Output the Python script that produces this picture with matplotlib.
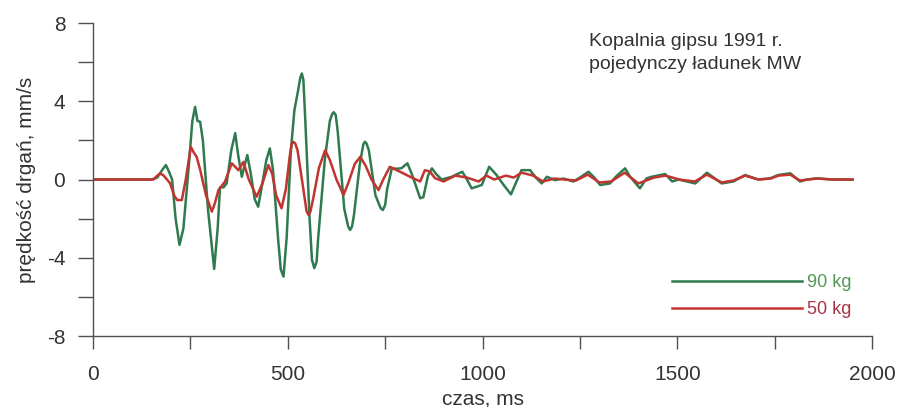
import matplotlib.pyplot as plt
from matplotlib.ticker import MultipleLocator

plt.rcParams['font.family'] = ['Liberation Sans', 'DejaVu Sans']
plt.rcParams['axes.unicode_minus'] = False

# Dane (czas w ms, prędkość w mm/s)
t_90 = [0, 150, 165, 178, 187, 195, 203, 212, 222, 232, 245, 255, 262, 268, 275, 282,
        295, 311, 320, 326, 335, 343, 355, 365, 373, 382, 390, 396, 405, 415, 424, 432,
        445, 454, 462, 475, 482, 489, 497, 508, 517, 526, 532, 536, 540, 545, 556, 562,
        568, 574, 578, 595, 608, 614, 618, 623, 628, 645, 655, 660, 665, 670, 685, 694,
        698, 702, 708, 725, 738, 744, 750, 755, 767, 780, 792, 807, 818, 840, 848, 860,
        870, 880, 895, 921, 948, 960, 972, 998, 1017, 1036, 1055, 1073, 1085, 1100, 1122,
        1137, 1152, 1165, 1186, 1208, 1233, 1250, 1272, 1287, 1302, 1327, 1345, 1366,
        1379, 1404, 1421, 1434, 1469, 1487, 1503, 1546, 1576, 1600, 1614, 1644, 1674,
        1708, 1738, 1759, 1790, 1815, 1832, 1858, 1900, 1950]
v_90 = [0, 0, 0.1, 0.5, 0.74, 0.4, 0.0, -2.0, -3.34, -2.5, 0.5, 3.0, 3.71, 3.0, 2.95, 2.0,
        -1.5, -4.57, -2.5, -0.4, -0.4, -0.2, 1.5, 2.37, 1.2, 0.14, 0.8, 1.25, 0.3, -1.0,
        -1.39, -0.5, 1.0, 1.59, 0.5, -3.0, -4.6, -4.96, -3.0, 1.5, 3.55, 4.5, 5.2, 5.42,
        5.1, 3.0, -2.0, -4.1, -4.53, -4.2, -3.0, 1.0, 3.0, 3.35, 3.44, 3.3, 2.5, -1.5,
        -2.4, -2.58, -2.4, -1.8, 0.8, 1.8, 1.93, 1.85, 1.5, -0.8, -1.45, -1.56, -1.3,
        -0.5, 0.57, 0.55, 0.58, 0.83, 0.3, -0.96, -0.9, 0.2, 0.57, 0.3, 0.0, 0.14, 0.4,
        0.0, -0.45, -0.28, 0.65, 0.23, -0.3, -0.76, -0.2, 0.48, 0.48, 0.1, -0.2, 0.14,
        -0.03, 0.05, -0.1, 0.1, 0.4, 0.1, -0.28, -0.2, 0.2, 0.57, 0.14, -0.45, 0.06, 0.14,
        0.28, -0.1, 0.0, -0.2, 0.35, 0.0, -0.2, -0.1, 0.23, 0.0, 0.06, 0.23, 0.32, -0.1,
        0.0, 0.06, 0.0, 0.0]

t_50 = [0, 155, 165, 172, 180, 190, 198, 208, 216, 228, 238, 251, 258, 266, 275, 290,
        305, 313, 322, 339, 356, 365, 373, 386, 400, 420, 435, 450, 460, 470, 484, 495,
        505, 510, 514, 519, 525, 540, 548, 553, 558, 565, 580, 596, 608, 625, 643, 655,
        672, 686, 700, 715, 733, 745, 762, 788, 814, 840, 852, 865, 878, 900, 930, 960,
        990, 1010, 1030, 1060, 1080, 1100, 1130, 1155, 1185, 1210, 1240, 1270, 1300,
        1330, 1365, 1400, 1440, 1470, 1505, 1545, 1576, 1614, 1644, 1674, 1708, 1740,
        1760, 1790, 1815, 1858, 1900, 1950]
v_50 = [0, 0, 0.2, 0.3, 0.23, 0.0, -0.2, -0.8, -1.05, -1.05, 0.0, 1.67, 1.4, 1.16, 0.5,
        -0.8, -1.64, -1.2, -0.54, -0.1, 0.83, 0.65, 0.48, 0.9, 0.0, -0.88, -0.2, 0.74, 0.3,
        -0.8, -1.47, -0.5, 1.2, 1.8, 1.93, 1.85, 1.5, -0.5, -1.6, -1.81, -1.65, -1.0, 0.6,
        1.5, 1.0, 0.0, -0.79, -0.2, 0.8, 1.16, 0.7, 0.0, -0.54, 0.0, 0.65, 0.4, 0.14,
        -0.1, 0.48, 0.4, 0.07, -0.1, 0.2, 0.1, -0.1, 0.2, 0.0, 0.2, 0.1, 0.35, 0.2, -0.1,
        0.05, 0.0, -0.05, 0.25, -0.15, -0.1, 0.35, -0.2, 0.1, 0.2, 0.0, -0.1, 0.25, -0.15,
        -0.05, 0.2, 0.0, 0.05, 0.2, 0.25, -0.05, 0.05, 0.0, 0.0]

KOLOR_90 = '#2f7a4e'
KOLOR_50 = '#c0352f'
SZARY = '#505050'

fig = plt.figure(figsize=(8.98, 4.07), dpi=100)
ax = fig.add_axes([0.1036, 0.1744, 0.8675, 0.769])

ax.plot(t_90, v_90, color=KOLOR_90, linewidth=1.8, label='90 kg')
ax.plot(t_50, v_50, color=KOLOR_50, linewidth=1.8, label='50 kg')

ax.set_xlim(0, 2000)
ax.set_ylim(-8, 8)
ax.xaxis.set_major_locator(MultipleLocator(500))
ax.xaxis.set_minor_locator(MultipleLocator(250))
ax.yaxis.set_major_locator(MultipleLocator(4))
ax.yaxis.set_minor_locator(MultipleLocator(2))
for s in ['top', 'right']:
    ax.spines[s].set_visible(False)
for s in ['left', 'bottom']:
    ax.spines[s].set_color(SZARY)
    ax.spines[s].set_linewidth(1.0)
ax.tick_params(axis='x', which='both', direction='out', length=9, width=1.0,
               color=SZARY, pad=12, labelsize=15, labelcolor='#333333')
ax.tick_params(axis='y', which='both', direction='out', length=11, width=1.0,
               color=SZARY, pad=9, labelsize=15, labelcolor='#333333')

ax.set_xlabel('czas, ms', fontsize=15, color='#333333', labelpad=4)
ax.set_ylabel('prędkość drgań, mm/s', fontsize=15, color='#333333', labelpad=8)

ax.text(0.637, 0.968, 'Kopalnia gipsu 1991 r.\npojedynczy ładunek MW',
        transform=ax.transAxes, fontsize=14, color='#333333',
        va='top', ha='left', linespacing=1.45)

ax.legend(loc='lower right', bbox_to_anchor=(0.995, 0.005), frameon=False,
          handlelength=7.2, handletextpad=0.3, fontsize=13, labelspacing=0.55,
          labelcolor=['#4f9a55', '#a83545'])

fig.savefig('out.png', dpi=100)
